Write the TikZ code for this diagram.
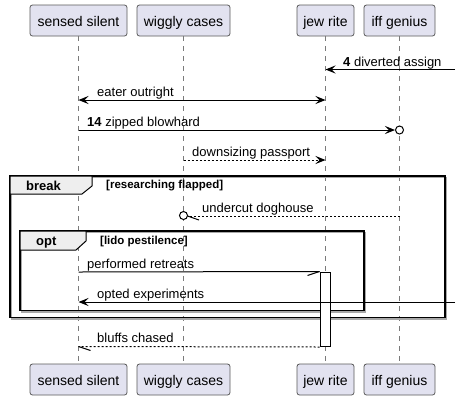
\documentclass[tikz,border=0pt]{standalone}
\usepackage{fontspec}
\setmainfont{Liberation Sans}
\usetikzlibrary{arrows.meta}
\definecolor{partfill}{HTML}{E2E2F0}
\definecolor{partdraw}{HTML}{5A5A5A}
\definecolor{tabfill}{HTML}{EEEEEE}
\definecolor{lifecol}{HTML}{7A7A7A}
\definecolor{shadowcol}{HTML}{A8A8A8}
\tikzset{
  part/.style={draw=partdraw, fill=partfill, rounded corners=2.5pt, line width=0.8pt,
    minimum height=31pt, inner sep=0pt, font=\fontsize{14}{16}\selectfont,
    text height=12pt, text depth=1pt},
  lifeline/.style={draw=lifecol, line width=0.8pt, dash pattern=on 5pt off 5pt},
  msg/.style={line width=1pt, draw=black},
  dotmsg/.style={line width=1pt, draw=black, dash pattern=on 2pt off 2pt},
  head/.style={-{Stealth[length=10pt, width=8pt, inset=4pt]}},
  bothhead/.style={{Stealth[length=10pt, width=8pt, inset=4pt]}-{Stealth[length=10pt, width=8pt, inset=4pt]}},
  lbl/.style={anchor=base west, inner sep=0pt, font=\fontsize{13}{15}\selectfont},
  guard/.style={anchor=base west, inner sep=0pt, font=\fontsize{11.5}{13}\selectfont\bfseries},
  tablbl/.style={anchor=base west, inner sep=0pt, font=\fontsize{13}{15}\selectfont\bfseries},
  frameline/.style={draw=black, line width=1.5pt},
  frameshadow/.style={draw=shadowcol, line width=1.5pt},
  tab/.style={draw=black, fill=tabfill, line width=1pt},
  actbar/.style={draw=black, fill=white, line width=1pt, minimum width=10pt, minimum height=74.5pt, inner sep=0pt},
  ring/.style={draw=black, fill=white, line width=1pt}
}
\begin{document}
\begin{tikzpicture}[x=1pt,y=-1pt]
\useasboundingbox (0,0) rectangle (460,400);
\fill[white] (0,0) rectangle (460,400);

% participants
\node[part, minimum width=97pt] (s1) at (78.5,20.5) {sensed silent};
\node[part, minimum width=93pt] (w1) at (183.5,20.5) {wiggly cases};
\node[part, minimum width=57pt] (j1) at (325.5,20.5) {jew rite};
\node[part, minimum width=71pt] (f1) at (399.5,20.5) {iff genius};
\node[part, minimum width=97pt] (s2) at (78.5,379.5) {sensed silent};
\node[part, minimum width=93pt] (w2) at (183.5,379.5) {wiggly cases};
\node[part, minimum width=57pt] (j2) at (325.5,379.5) {jew rite};
\node[part, minimum width=71pt] (f2) at (399.5,379.5) {iff genius};

% lifelines
\draw[lifeline] (s1.south) -- (s2.north);
\draw[lifeline] (w1.south) -- (w2.north);
\draw[lifeline] (j1.south) -- (j2.north);
\draw[lifeline] (f1.south) -- (f2.north);

% break frame
\draw[frameshadow] (11.5,177.5) rectangle (446.5,319);
\draw[frameline] (10,176) rectangle (445,317.5);
\draw[tab] (10,176) -- (92,176) -- (92,186) -- (82,194) -- (10,194) -- cycle;
\node[tablbl] (breaklbl) at (26,190) {break};
\node[guard] (breakguard) at (106,188.5) {[researching flapped]};

% opt frame
\draw[frameshadow] (21.5,232.5) rectangle (365.5,312);
\draw[frameline] (20,231) rectangle (364,310.5);
\draw[tab] (20,231) -- (86,231) -- (86,241) -- (76,250) -- (20,250) -- cycle;
\node[tablbl] (optlbl) at (36,245.5) {opt};
\node[guard] (optguard) at (100,244) {[lido pestilence]};

% activation bar
\node[actbar] (act) at (325,309.25) {};

% coordinates
\coordinate (in1) at (455,69.5);
\coordinate (j69) at (325.5,69.5);
\coordinate (s100) at (78.5,100);
\coordinate (j100) at (325.5,100);
\coordinate (s130) at (78.5,130);
\coordinate (f130) at (395,130);
\coordinate (w160) at (183.5,160);
\coordinate (j160) at (325.5,160);
\coordinate (f216) at (399.5,216);
\coordinate (w216) at (187.5,216);
\coordinate (s272) at (78.5,272);
\coordinate (in7) at (455,302);
\coordinate (s302) at (78.5,302);
\coordinate (s346) at (78.5,346.5);

% message 1
\draw[msg, head] (in1) -- (j69);
\node[lbl] (l1) at (343,66.5) {\textbf{4} diverted assign};
% message 2
\draw[msg, bothhead] (s100) -- (j100);
\node[lbl] (l2) at (97,96) {eater outright};
% message 3
\draw[msg, head] (s130) -- (f130);
\draw[ring] (399.5,130) circle (4);
\node[lbl] (l3) at (87,126) {\textbf{14} zipped blowhard};
% message 4
\draw[dotmsg, head] (w160) -- (j160);
\node[lbl] (l4) at (192,156) {downsizing passport};
% message 5
\draw[dotmsg] (f216) -- (w216);
\draw[msg] (w216) -- (199,220);
\draw[ring] (183.5,215.5) circle (4);
\node[lbl] (l5) at (202,212) {undercut doghouse};
% message 6
\draw[msg] (s272) -- (act.north west);
\draw[msg] (act.north west) -- ++(-12,4);
\node[lbl] (l6) at (87,268) {performed retreats};
% message 7
\draw[msg, head] (in7) -- (s302);
\node[lbl] (l7) at (97,298) {opted experiments};
% message 8
\draw[dotmsg] (act.south west) -- (s346);
\draw[msg] (s346) -- ++(12,4);
\node[lbl] (l8) at (97,342.5) {bluffs chased};
\end{tikzpicture}
\end{document}
